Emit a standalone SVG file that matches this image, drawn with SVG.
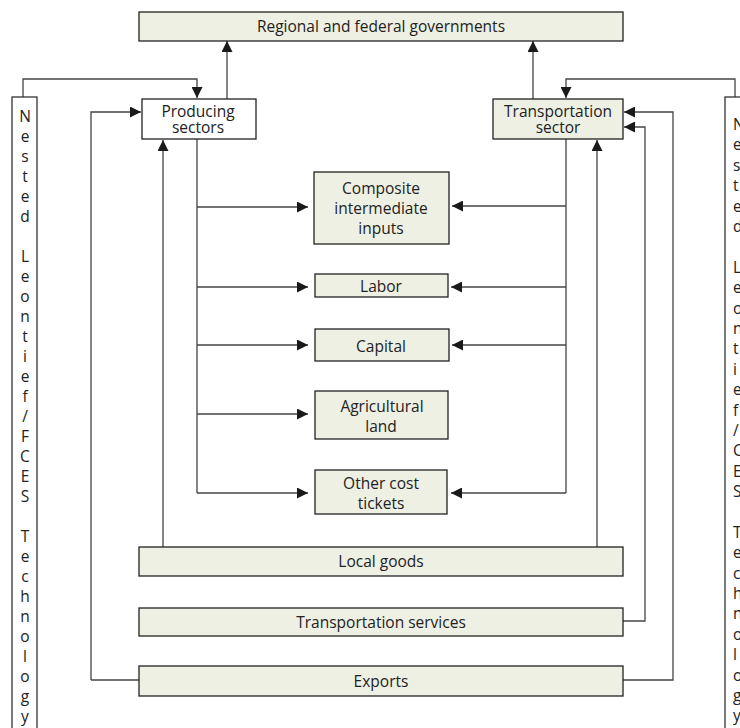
<svg xmlns="http://www.w3.org/2000/svg" width="740" height="728" viewBox="0 0 740 728">
<style>
.box{fill:#eef0e4;stroke:#222;stroke-width:1.3}
.wbox{fill:#fff;stroke:#222;stroke-width:1.3}
.vbox{fill:#fff;stroke:#333;stroke-width:1.3}
.t{font-family:"Open Sans","Liberation Sans",sans-serif;font-size:15.5px;fill:#222;text-anchor:middle}
.vt{font-family:"Open Sans","Liberation Sans",sans-serif;font-size:15.5px;fill:#222}
.c{fill:none;stroke:#444;stroke-width:1.3}
.a{marker-end:url(#ah)}
</style>
<defs>
<marker id="ah" viewBox="0 0 11 11" refX="11" refY="5.5" markerWidth="11" markerHeight="11" markerUnits="userSpaceOnUse" orient="auto">
<path d="M0,0 L11,5.5 L0,11 z" fill="#1a1a1a"/>
</marker>
</defs>
<g id="connectors">
<path class="c a" d="M227,99 V41"/>
<path class="c a" d="M533,99 V41"/>
<path class="c a" d="M23,97 V79 H197 V98"/>
<path class="c a" d="M735,97 V79 H566 V98"/>
<path class="c a" d="M91,680 V112 H141"/>
<path class="c" d="M139,680 H91"/>
<path class="c a" d="M163,547 V140"/>
<path class="c a" d="M597,547 V140"/>
<path class="c a" d="M623,621 H645 V127 H624"/>
<path class="c a" d="M623,680 H673 V112 H624"/>
<path class="c" d="M197,139 V493"/>
<path class="c a" d="M197,207 H308"/>
<path class="c a" d="M197,287 H308"/>
<path class="c a" d="M197,345 H308"/>
<path class="c a" d="M197,414 H308"/>
<path class="c a" d="M197,493 H308"/>
<path class="c" d="M566,139 V493"/>
<path class="c a" d="M566,206 H452"/>
<path class="c a" d="M566,287 H451"/>
<path class="c a" d="M566,345 H452"/>
<path class="c a" d="M566,493 H451"/>
</g>
<g id="governments">
<rect class="box" x="139" y="12" width="484" height="29"/>
<text class="t" x="381" y="32">Regional and federal governments</text>
</g>
<g id="producing">
<rect class="wbox" x="142" y="99" width="114" height="40"/>
<text class="t" x="198" y="117">Producing</text>
<text class="t" x="198" y="133">sectors</text>
</g>
<g id="transport">
<rect class="box" x="493" y="99" width="130" height="40"/>
<text class="t" x="558" y="117">Transportation</text>
<text class="t" x="558" y="133">sector</text>
</g>
<g id="composite">
<rect class="box" x="314" y="172" width="135" height="72"/>
<text class="t" x="381" y="194">Composite</text>
<text class="t" x="381" y="214">intermediate</text>
<text class="t" x="381" y="234">inputs</text>
</g>
<g id="labor">
<rect class="box" x="315" y="274" width="133" height="23"/>
<text class="t" x="381" y="292">Labor</text>
</g>
<g id="capital">
<rect class="box" x="315" y="329" width="134" height="32"/>
<text class="t" x="381" y="352">Capital</text>
</g>
<g id="agri">
<rect class="box" x="315" y="391" width="133" height="48"/>
<text class="t" x="382" y="412">Agricultural</text>
<text class="t" x="381" y="432">land</text>
</g>
<g id="othercost">
<rect class="box" x="315" y="470" width="132" height="44"/>
<text class="t" x="381" y="489">Other cost</text>
<text class="t" x="381" y="509">tickets</text>
</g>
<g id="localgoods">
<rect class="box" x="139" y="547" width="484" height="29"/>
<text class="t" x="381" y="567">Local goods</text>
</g>
<g id="transervices">
<rect class="box" x="139" y="608" width="484" height="28"/>
<text class="t" x="381" y="628">Transportation services</text>
</g>
<g id="exports">
<rect class="box" x="139" y="666" width="484" height="30"/>
<text class="t" x="381" y="687">Exports</text>
</g>
<g id="left-tech">
<rect class="vbox" x="12" y="97" width="25" height="650"/>
<text class="t" x="25" y="122">N</text>
<text class="t" x="25" y="142">e</text>
<text class="t" x="25" y="162">s</text>
<text class="t" x="25" y="182">t</text>
<text class="t" x="25" y="202">e</text>
<text class="t" x="25" y="222">d</text>
<text class="t" x="25" y="262">L</text>
<text class="t" x="25" y="282">e</text>
<text class="t" x="25" y="302">o</text>
<text class="t" x="25" y="322">n</text>
<text class="t" x="25" y="342">t</text>
<text class="t" x="25" y="362">i</text>
<text class="t" x="25" y="382">e</text>
<text class="t" x="25" y="402">f</text>
<text class="t" x="25" y="422">/</text>
<text class="t" x="25" y="442">F</text>
<text class="t" x="25" y="462">C</text>
<text class="t" x="25" y="482">E</text>
<text class="t" x="25" y="502">S</text>
<text class="t" x="25" y="542">T</text>
<text class="t" x="25" y="562">e</text>
<text class="t" x="25" y="582">c</text>
<text class="t" x="25" y="602">h</text>
<text class="t" x="25" y="622">n</text>
<text class="t" x="25" y="642">o</text>
<text class="t" x="25" y="662">l</text>
<text class="t" x="25" y="682">o</text>
<text class="t" x="25" y="702">g</text>
<text class="t" x="25" y="722">y</text>
</g>
<g id="right-tech">
<rect class="vbox" x="725" y="97" width="40" height="650"/>
<text class="vt" x="733" y="130">N</text>
<text class="vt" x="733" y="150">e</text>
<text class="vt" x="733" y="171">s</text>
<text class="vt" x="733" y="191">t</text>
<text class="vt" x="733" y="212">e</text>
<text class="vt" x="733" y="232">d</text>
<text class="vt" x="733" y="273">L</text>
<text class="vt" x="733" y="293">e</text>
<text class="vt" x="733" y="314">o</text>
<text class="vt" x="733" y="334">n</text>
<text class="vt" x="733" y="354">t</text>
<text class="vt" x="733" y="375">i</text>
<text class="vt" x="733" y="395">e</text>
<text class="vt" x="733" y="416">f</text>
<text class="vt" x="733" y="436">/</text>
<text class="vt" x="733" y="456">C</text>
<text class="vt" x="733" y="477">E</text>
<text class="vt" x="733" y="497">S</text>
<text class="vt" x="733" y="538">T</text>
<text class="vt" x="733" y="558">e</text>
<text class="vt" x="733" y="579">c</text>
<text class="vt" x="733" y="599">h</text>
<text class="vt" x="733" y="619">n</text>
<text class="vt" x="733" y="640">o</text>
<text class="vt" x="733" y="660">l</text>
<text class="vt" x="733" y="681">o</text>
<text class="vt" x="733" y="701">g</text>
<text class="vt" x="733" y="721">y</text>
</g>
</svg>
